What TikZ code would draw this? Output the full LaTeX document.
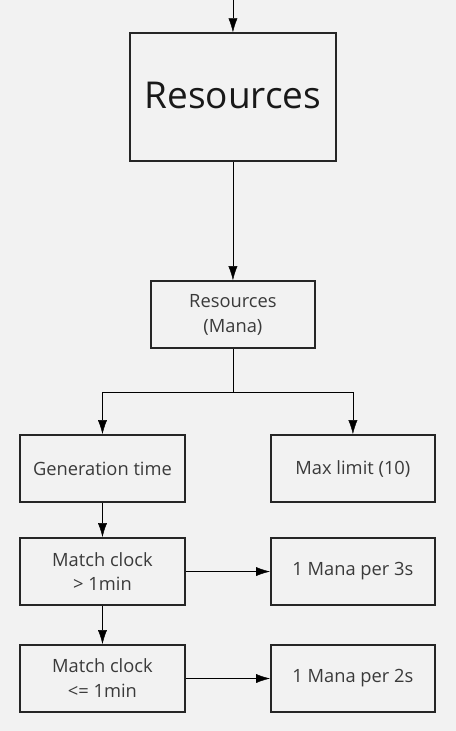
\documentclass[tikz,border=0pt]{standalone}
\usepackage{fontspec}
\setmainfont{Open Sans}
\usepackage{tikz}
\usetikzlibrary{arrows.meta}
\definecolor{bgcol}{HTML}{F2F2F2}
\definecolor{txtcol}{HTML}{3A3A3A}
\tikzset{>={Latex[length=14pt,width=9pt]}}
\tikzset{box/.style={draw=black!85, line width=1.8pt, text=txtcol, inner sep=0pt, align=center, font=\fontsize{18.3}{25}\selectfont}}
\begin{document}
\begin{tikzpicture}[x=1pt, y=-1pt]
\fill[bgcol] (0,0) rectangle (456,731);
\coordinate (top) at (233,0);
\node[box, minimum width=206pt, minimum height=128pt, font=\fontsize{37}{44}\selectfont, text=black!90] (res) at (233,97) {\raisebox{3pt}{Resources}};
\node[box, minimum width=164pt, minimum height=67pt] (mana) at (233,314.5) {Resources\\(Mana)};
\node[box, minimum width=165pt, minimum height=67pt] (gen) at (102.5,468.5) {Generation time};
\node[box, minimum width=164pt, minimum height=67pt] (max) at (353,468.5) {Max limit (10)};
\node[box, minimum width=165pt, minimum height=67pt] (clockA) at (102.5,571.5) {Match clock\\> 1min};
\node[box, minimum width=164pt, minimum height=67pt] (perA) at (353,571.5) {1 Mana per 3s};
\node[box, minimum width=165pt, minimum height=67pt] (clockB) at (102.5,678.5) {Match clock\\<= 1min};
\node[box, minimum width=164pt, minimum height=67pt] (perB) at (353,678.5) {1 Mana per 2s};
\coordinate (fork) at (233,392);
\draw[->] (top) -- (res);
\draw[->] (res) -- (mana);
\draw (mana) -- (fork);
\draw[->] (fork) -| (gen);
\draw[->] (fork) -| (max);
\draw[->] (gen) -- (clockA);
\draw[->] (clockA) -- (clockB);
\draw[->] (clockA) -- (perA);
\draw[->] (clockB) -- (perB);
\end{tikzpicture}
\end{document}
